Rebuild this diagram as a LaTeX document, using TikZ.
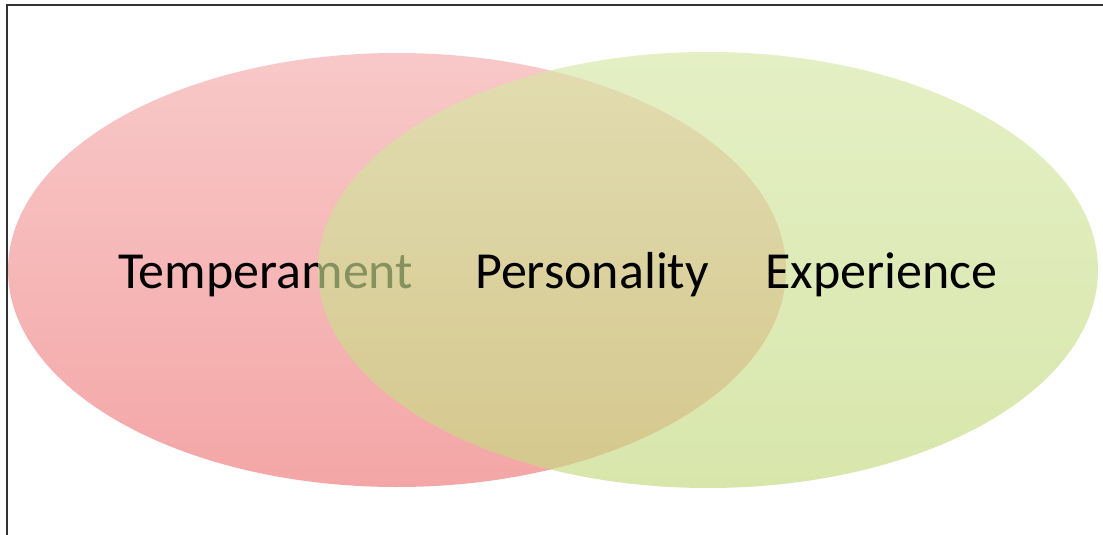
\documentclass[tikz,border=0pt]{standalone}
\usepackage{fontspec}
\setmainfont{Carlito}
\definecolor{redtop}{RGB}{248,200,200}
\definecolor{redbot}{RGB}{244,166,166}
\definecolor{greentop}{RGB}{214,232,165}
\definecolor{greenbot}{RGB}{196,218,128}
\definecolor{framec}{RGB}{50,50,50}
\tikzset{
  lbl/.style={inner sep=0pt, anchor=base west, font=\fontsize{52}{62}\selectfont, text=black},
  frameline/.style={draw=framec, line width=2.4pt}
}
\begin{document}
\begin{tikzpicture}[x=1pt,y=-1pt]
\useasboundingbox (0,0) rectangle (1103,535);
\fill[white] (0,0) rectangle (1103,535);
\coordinate (tl) at (7,5);
\coordinate (tr) at (1103,5);
\coordinate (bl) at (7,535);
\draw[frameline] (tr) -- (tl) -- (bl);
\shade[top color=redtop, bottom color=redbot] (397,270) ellipse [x radius=389, y radius=217];
\node[lbl] (temp) at (118,288) {Temperament};
\shade[top color=greentop, bottom color=greenbot, fill opacity=0.65] (708,270) ellipse [x radius=390, y radius=218];
\node[lbl] (pers) at (475,288) {Personality};
\node[lbl] (exp) at (765,288) {Experience};
\end{tikzpicture}
\end{document}
